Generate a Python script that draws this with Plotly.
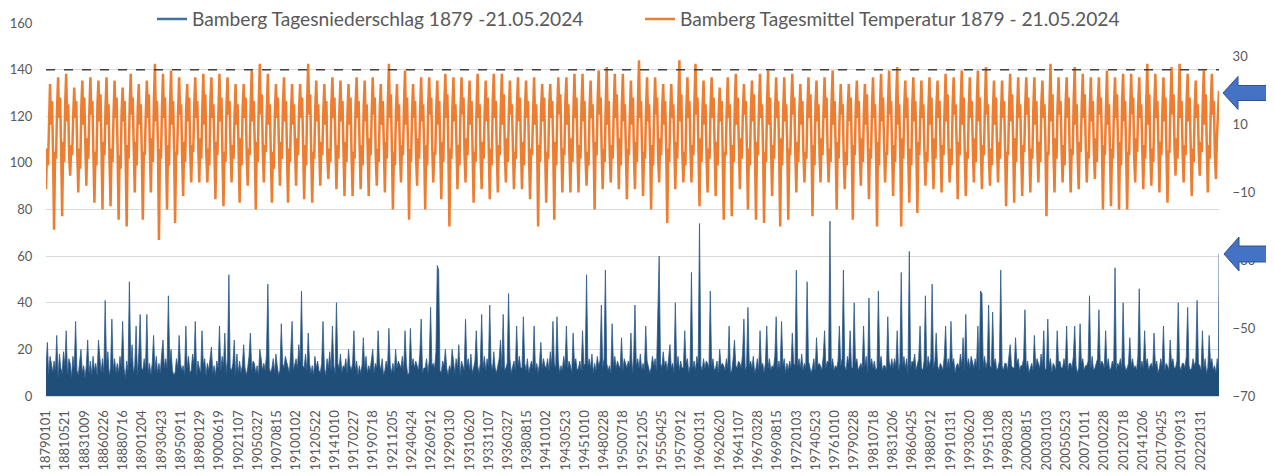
import pandas as pd
import plotly.graph_objects as go

# ---------------- data ----------------
tick_labels = ["18790101","18810521","18831009","18860226","18880716","18901204","18930423","18950911",
               "18980129","19000619","19021107","19050327","19070815","19100102","19120522","19141010",
               "19170227","19190718","19211205","19240424","19260912","19290130","19310620","19331107",
               "19360327","19380815","19410102","19430523","19451010","19480228","19500718","19521205",
               "19550425","19570912","19600131","19620620","19641107","19670328","19690815","19720103",
               "19740523","19761010","19790228","19810718","19831206","19860425","19880912","19910131",
               "19930620","19951108","19980328","20000815","20030103","20050523","20071011","20100228",
               "20120718","20141206","20170425","20190913","20220131"]

# daily mean temperature (deg C), 8 readings per year
temp_1879_1915 = [
 -9,3,-2,14,22,10,17,1,  -21,2,0,15,24,12,18,3,  -17,5,-1,16,25,11,16,0,  -5,4,1,13,21,12,17,2,
 -10,3,-3,15,23,10,18,4, -8,6,0,14,24,13,17,1,   -13,2,-2,16,23,11,19,3,  -15,5,1,15,24,10,16,-1,
 -14,3,-1,13,23,12,18,2, -18,1,-3,14,21,11,17,0, -20,4,0,16,25,13,18,3,   -10,5,-2,15,22,10,16,1,
 -18,2,1,14,23,12,19,2,  -10,6,-1,17,28,11,17,4, -24,3,0,15,25,12,18,1,   -15,4,-2,16,26,10,17,3,
 -19,2,1,14,24,13,16,0,  -11,5,-1,15,22,11,18,2, -7,4,2,16,24,12,17,3,    -7,6,0,15,25,10,19,1,
 -7,3,-2,17,24,12,16,2,  -12,5,1,14,25,11,18,0,  -14,2,-1,16,24,13,17,3,  -7,4,0,13,22,10,16,2,
 -13,6,-2,15,22,12,18,1, -8,3,1,16,26,11,17,4,   -15,5,-1,17,28,13,19,2,  -7,4,2,15,25,10,16,0,
 -13,2,-3,14,22,12,18,3, -8,5,0,16,24,11,17,1,   -13,3,-1,14,22,10,16,2,  -8,6,1,15,22,12,18,3,
 -12,4,-2,17,28,13,19,1, -13,2,0,15,23,11,16,2,  -8,5,1,14,22,10,17,0,    -6,3,-1,16,24,12,18,4,
 -9,4,0,15,23,11,17,2]
temp_1916_1951 = [
 -11,5,-1,14,22,10,18,1, -11,2,0,16,24,12,17,3, -9,4,-2,15,23,11,16,2,   -11,6,1,14,24,13,18,0,
 -8,3,-1,15,22,10,17,4,  -10,5,0,17,28,12,19,2,  -15,2,-2,14,22,11,16,1,  -7,4,1,16,26,10,18,3,
 -18,3,-1,14,22,12,17,0, -8,6,0,15,24,11,16,2,   -15,4,-2,16,24,13,18,3,  -7,2,1,15,23,10,17,1,
 -12,5,-1,16,25,12,19,2, -20,3,0,15,24,11,16,4,  -9,4,-2,14,24,13,18,1,   -7,6,1,15,23,10,17,2,
 -13,2,-1,16,25,12,16,0, -9,5,0,14,23,11,18,3,   -12,3,-2,17,25,12,17,2,  -10,4,1,15,25,10,19,1,
 -7,6,-1,14,23,13,16,3,  -9,2,0,16,24,11,18,2,   -9,5,-2,15,23,12,17,0,   -12,3,1,14,24,10,16,4,
 -20,4,-1,15,22,11,18,1, -13,2,0,16,22,12,17,2,  -18,5,-2,15,24,13,19,3,  -10,3,1,17,24,10,16,1,
 -10,6,-1,14,25,12,18,2, -10,4,0,16,25,11,17,0,  -8,2,-2,15,23,12,16,3,   -15,5,1,17,26,13,18,2,
 -9,3,-1,16,27,10,17,1,  -7,4,0,15,25,12,19,4,   -9,6,-2,16,25,11,16,2,   -12,3,1,14,23,10,18,1]
temp_1952_1988 = [
 -9,5,-1,17,29,12,17,3,  -11,2,0,15,24,11,16,2,  -15,4,-2,14,24,13,18,0,  -7,6,1,15,22,10,17,2,
 -19,3,-1,14,22,12,16,4, -9,5,0,17,29,11,19,1,   -7,2,-2,15,24,12,17,3,   -7,4,1,17,28,13,18,2,
 -14,6,-1,15,23,10,16,0, -10,3,0,16,24,12,18,3,  -11,5,-2,13,21,11,17,1,  -18,2,1,15,24,12,16,2,
 -17,4,-1,16,25,10,18,4, -9,6,0,14,22,13,17,2,   -15,3,-2,15,23,11,19,1,  -18,5,1,16,25,12,16,3,
 -19,2,-1,17,26,10,18,2, -11,4,0,15,24,12,17,0,  -20,6,-2,14,24,11,16,3,  -18,3,1,16,25,13,18,1,
 -10,5,-1,14,22,10,17,2, -7,2,0,15,24,12,19,4,   -17,4,-2,16,23,11,16,1,  -7,6,1,15,24,12,18,2,
 -7,3,-1,17,26,10,17,3,  -15,5,0,14,22,13,16,0,  -9,2,-2,15,22,11,18,2,   -18,4,1,16,23,12,17,1,
 -8,6,-1,14,22,10,19,3,  -12,3,0,15,24,12,16,2,  -20,5,-2,16,25,11,18,4,  -7,2,1,17,26,13,17,1,
 -11,4,-1,17,27,10,16,2, -20,6,0,15,23,12,18,0,  -13,3,-2,16,24,11,17,3,  -16,5,1,14,23,12,16,2,
 -8,2,-1,15,24,10,18,1]
temp_1989_2023 = [
 -9,6,0,16,23,12,17,3,   -10,4,1,15,25,11,19,2,  -7,3,-2,16,24,13,16,4,   -12,5,1,17,26,10,18,1,
 -11,2,0,15,24,12,17,3,  -7,6,-1,17,26,11,18,2,  -9,4,1,16,27,13,16,0,    -8,3,-2,15,23,10,18,3,
 -7,5,0,14,23,12,17,2,   -14,2,1,16,25,11,19,4,  -13,6,-1,15,24,12,16,1,  -11,4,2,16,24,13,18,3,
 -10,3,0,15,24,10,17,2,  -7,5,-1,17,23,12,16,4,  -17,2,1,16,28,11,19,1,   -10,6,0,15,24,13,17,3,
 -7,4,-2,16,24,12,18,2,  -10,3,1,17,27,10,16,0,  -9,5,2,16,25,12,19,3,    -7,2,0,15,24,11,17,2,
 -6,6,-1,17,24,13,18,4,  -15,4,1,15,26,10,16,1,  -14,3,0,16,24,12,19,3,   -15,5,-2,17,25,11,17,2,
 -15,2,1,15,25,13,18,0,  -7,6,2,16,24,12,16,3,   -9,4,0,17,28,10,19,2,    -8,3,-1,16,25,12,17,4,
 -10,5,1,15,24,11,18,1,  -13,2,2,17,27,13,19,3,  -5,6,0,16,28,12,17,2,    -7,4,1,17,25,11,18,4,
 -11,3,-1,15,23,12,16,2, -5,5,2,17,26,10,19,3,   -10,4,0,16,25,13,17,1]
temp_2024 = [-6, 6, 11, 20]
temp_2024_dates = ["2024-01-01", "2024-02-15", "2024-04-01", "2024-05-21"]

# daily precipitation (mm), 6 readings per year
precip_1879_1915 = [
 12,23,9,17,14,10,  15,11,26,8,18,12,  10,19,13,28,9,16,  14,8,17,12,32,11,  9,16,20,10,13,8,
 13,24,10,15,9,17,  11,14,9,24,16,10,  16,10,41,13,19,9,  12,33,11,16,10,14,  10,17,13,32,12,8,
 15,11,49,14,22,10, 13,30,9,18,35,12,  11,16,12,35,10,14, 9,14,26,11,17,10,  14,10,18,24,12,16,
 12,43,15,20,11,9,  10,16,12,26,14,11, 13,9,30,12,17,10,  11,18,14,32,9,15,  12,10,28,13,16,9,
 14,11,16,21,10,13, 9,15,12,30,11,17,  13,27,10,16,52,12, 11,14,24,9,18,10,  15,10,13,22,12,9,
 12,17,27,11,15,14, 10,13,9,20,16,11,  14,11,18,48,12,10, 12,16,10,18,13,9,  11,31,14,12,17,15,
 13,10,19,32,11,14, 16,12,22,15,45,13, 12,18,11,27,14,10, 13,9,17,12,15,11,  10,14,32,12,9,16,
 12,19,11,30,13,10, 40,14,12,18,10,13]
precip_1916_1951 = [
 12,16,10,20,13,11, 14,28,11,15,9,13,  10,13,25,12,17,10, 13,11,16,20,10,14, 12,28,14,11,16,9,
 11,15,12,29,13,10, 14,10,20,12,15,13, 12,17,11,28,14,9,  10,29,13,16,12,15, 13,11,18,33,10,12,
 12,16,10,15,38,13, 14,12,19,56,54,11, 10,15,13,20,12,9,  13,11,20,14,10,16, 12,22,9,15,13,11,
 33,13,16,11,18,10, 12,15,28,13,10,14, 35,12,17,11,16,13, 39,14,11,19,12,10, 13,16,24,12,35,11,
 12,14,44,16,10,13, 15,11,30,13,17,12, 12,34,14,11,16,10, 13,15,12,30,11,14, 10,14,23,12,16,13,
 12,16,11,19,13,32, 14,12,34,15,10,13, 11,17,13,30,12,15, 13,10,27,14,16,11, 12,15,11,28,13,14,
 52,13,16,12,18,10, 14,11,17,13,15,39, 12,16,54,14,11,13, 10,31,13,17,12,15, 13,12,25,11,16,14,
 12,15,13,27,10,16]
precip_1952_1988 = [
 39,13,16,12,18,11, 14,11,30,15,13,10, 12,17,13,16,11,42, 60,14,12,19,13,15, 11,16,22,12,14,10,
 40,13,17,11,15,12, 12,28,14,16,10,13, 53,12,15,11,17,14, 74,13,11,16,12,15, 14,12,45,13,16,11,
 12,15,10,20,13,14, 13,11,16,12,30,10, 11,16,24,13,12,15, 14,12,18,33,11,13, 38,13,15,12,17,10,
 12,16,11,28,13,14, 10,14,30,12,16,11, 13,12,17,34,11,15, 12,32,13,16,10,14, 11,15,12,27,14,13,
 54,13,16,12,18,11, 14,12,49,15,13,10, 12,16,11,25,13,14, 13,11,17,28,12,15, 14,75,12,16,11,13,
 12,15,30,13,16,54, 13,11,17,14,28,12, 12,40,14,16,11,13, 14,12,30,13,17,10, 42,13,16,12,15,11,
 12,45,14,17,11,13, 13,11,34,15,12,16, 12,16,13,28,11,14, 53,13,17,12,16,10, 62,12,15,14,18,11,
 13,16,30,12,11,15, 43,12,17,13,16,48]
precip_1989_2023 = [
 12,15,27,13,11,14, 13,11,17,30,12,16, 12,32,14,16,10,13, 14,12,18,13,25,11, 35,13,16,12,17,14,
 12,16,13,30,11,45, 44,13,17,12,15,39, 13,12,36,14,16,11, 12,15,54,13,11,14, 14,11,17,22,13,12,
 12,25,14,16,11,13, 13,16,37,12,15,10, 12,14,11,26,13,16, 14,12,18,13,28,11, 12,33,13,16,10,14,
 13,11,28,14,15,12, 12,16,13,30,11,14, 14,12,17,30,13,10, 12,31,14,16,11,13, 13,15,43,12,17,11,
 12,14,16,37,13,15, 14,12,28,13,16,11, 12,15,13,55,11,14, 13,16,12,40,14,11, 12,14,25,13,16,12,
 13,11,17,46,12,15, 12,28,14,16,11,13, 14,12,27,13,15,10, 12,16,13,30,11,14, 13,11,24,14,16,12,
 12,15,40,13,11,14, 14,12,17,38,13,11, 12,16,13,15,41,14, 13,11,28,12,16,10, 12,26,14,16,11,13]
precip_2024 = [10, 16, 12, 46, 61]
precip_2024_dates = ["2024-01-01", "2024-03-01", "2024-04-20", "2024-05-18", "2024-05-21"]

# ---------------- assemble ----------------
def year_dates(first, last, n):
    out = []
    for y in range(first, last + 1):
        start = pd.Timestamp(year=y, month=1, day=1)
        for k in range(n):
            out.append(start + pd.Timedelta(days=round(k * 365.25 / n)))
    return out

temp_vals = temp_1879_1915 + temp_1916_1951 + temp_1952_1988 + temp_1989_2023 + temp_2024
temp_x = year_dates(1879, 2023, 8) + [pd.Timestamp(d) for d in temp_2024_dates]
prec_vals = precip_1879_1915 + precip_1916_1951 + precip_1952_1988 + precip_1989_2023 + precip_2024
prec_x = year_dates(1879, 2023, 6) + [pd.Timestamp(d) for d in precip_2024_dates]
assert len(temp_vals) == len(temp_x), (len(temp_vals), len(temp_x))
assert len(prec_vals) == len(prec_x), (len(prec_vals), len(prec_x))

tick_vals = [f"{t[:4]}-{t[4:6]}-{t[6:]}" for t in tick_labels]

FONT = "Lato"
GREY = "#595959"
BLUE_FILL = "#1F4E79"
BLUE_LINE = "#2E5C8A"
ORANGE = "#ED7D31"
NAME_P = "Bamberg Tagesniederschlag 1879 -21.05.2024"
NAME_T = "Bamberg Tagesmittel Temperatur 1879 - 21.05.2024"

fig = go.Figure()
fig.add_trace(go.Scatter(
    x=prec_x, y=prec_vals, mode="lines", name=NAME_P, showlegend=False, legendgroup="p",
    line=dict(color=BLUE_LINE, width=0.8), fill="tozeroy", fillcolor=BLUE_FILL, yaxis="y"))
fig.add_trace(go.Scatter(
    x=temp_x, y=temp_vals, mode="lines", name=NAME_T, showlegend=False, legendgroup="t",
    line=dict(color=ORANGE, width=2.5), yaxis="y2"))
# legend-only entries (line symbols, as in the reference legend)
fig.add_trace(go.Scatter(x=[None], y=[None], mode="lines", name=NAME_P, legendgroup="p",
                         line=dict(color="#41719C", width=2.5)))
fig.add_trace(go.Scatter(x=[None], y=[None], mode="lines", name=NAME_T, legendgroup="t",
                         line=dict(color=ORANGE, width=2.5)))

# The page body has an 8px margin: the figure starts at (8, 8) in the window.
OFF = 8
W, H = 1274 - OFF, 476 - OFF
# plot area in window pixels: x 46..1219, y 23..396
L, R, T, B = 46, 1219, 23, 396
def fx(px): return (px - L) / (R - L)
def fy(py): return (B - py) / (B - T)

def arrow_path(tip_x, cy, base_x, head_h, body_h, end_x):
    pts = [(tip_x, cy), (base_x, cy - head_h), (base_x, cy - body_h), (end_x, cy - body_h),
           (end_x, cy + body_h), (base_x, cy + body_h), (base_x, cy + head_h)]
    return "M " + " L ".join(f"{fx(x):.5f},{fy(y):.5f}" for x, y in pts) + " Z"

shapes = [
    dict(type="line", xref="paper", yref="y", x0=0, x1=1, y0=140, y1=140,
         line=dict(color="#404040", width=1.5, dash="dash"), layer="above"),
    dict(type="path", xref="paper", yref="paper", path=arrow_path(1223, 93, 1238, 16.5, 7.5, 1280),
         fillcolor="#4472C4", line=dict(color="#2F528F", width=1), layer="above"),
    dict(type="path", xref="paper", yref="paper", path=arrow_path(1224, 254, 1239, 17, 8, 1280),
         fillcolor="#4472C4", line=dict(color="#2F528F", width=1), layer="above"),
]

fig.update_layout(
    width=W, height=H,
    margin=dict(l=L - OFF, r=OFF + W - R, t=T - OFF, b=OFF + H - B, autoexpand=False),
    paper_bgcolor="white", plot_bgcolor="white",
    font=dict(family=FONT, color=GREY, size=13),
    showlegend=True,
    legend=dict(orientation="h", x=fx(152), xanchor="left", y=fy(19), yanchor="middle",
                bgcolor="rgba(0,0,0,0)", font=dict(family=FONT, size=19.2, color=GREY),
                itemwidth=30, entrywidth=443, entrywidthmode="pixels"),
    xaxis=dict(type="date", range=["1879-01-01", "2024-05-21"], tickmode="array",
               tickvals=tick_vals, ticktext=tick_labels, tickangle=-90,
               tickfont=dict(family=FONT, size=13, color=GREY), showgrid=False,
               showline=True, linecolor="#d9d9d9", ticks="outside", ticklen=8,
               tickcolor="rgba(0,0,0,0)", zeroline=False),
    yaxis=dict(range=[0, 160], tickvals=[0, 20, 40, 60, 80, 100, 120, 140, 160],
               showgrid=True, gridcolor="#d9d9d9", gridwidth=1, zeroline=False,
               tickfont=dict(family=FONT, size=13, color=GREY),
               ticks="outside", ticklen=10, tickcolor="rgba(0,0,0,0)"),
    yaxis2=dict(range=[-70, 40], tickvals=[-70, -50, -30, -10, 10, 30], overlaying="y",
                side="right", showgrid=False, zeroline=False,
                tickfont=dict(family=FONT, size=13, color=GREY),
                ticks="outside", ticklen=10, tickcolor="rgba(0,0,0,0)"),
    shapes=shapes,
)

fig.write_html("out.html")
